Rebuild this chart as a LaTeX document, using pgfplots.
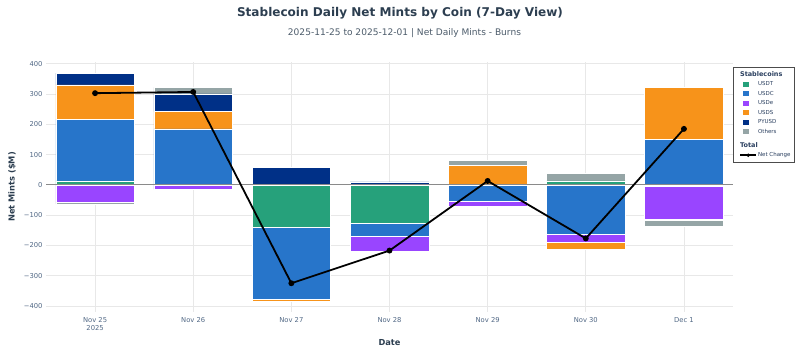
\documentclass[border=0pt]{standalone}
\usepackage{fontspec}
\setmainfont{DejaVu Sans}
\usepackage{pgfplots}
\usepackage{pgfplotstable}
\pgfplotsset{compat=1.18}
\definecolor{cUSDT}{HTML}{26A17B}
\definecolor{cUSDC}{HTML}{2775CA}
\definecolor{cUSDe}{HTML}{9945FF}
\definecolor{cUSDS}{HTML}{F7931A}
\definecolor{cPYUSD}{HTML}{003087}
\definecolor{cOth}{HTML}{95A5A6}
\definecolor{titlec}{HTML}{2C3E50}
\definecolor{tickc}{HTML}{506784}
\definecolor{gridc}{HTML}{E8E8E8}
\definecolor{zeroc}{HTML}{8A8A8A}
\definecolor{legc}{HTML}{2A3F5F}

\pgfplotstableread{
x USDT USDC USDS PYUSD Oth
0 13 204 113 39 0
1 0 185 57 59 21
2 0 0 0 57 0
3 0 0 0 10 0
4 0 0 64 0 16
5 13 0 0 0 24
6 0 151 172 0 0
}\postab
\pgfplotstableread{
x USDT USDC USDe USDS PYUSD Oth
0 0 0 -58 0 0 -6
1 0 0 -15 0 0 0
2 -140 -237 0 -6 0 0
3 -127 -44 -49 0 0 -4
4 0 -55 -14 0 0 0
5 0 -163 -28 -22 0 0
6 -4 0 -109 0 -4 -21
}\negtab
\pgfplotstableread{
x net
0 303
1 307
2 -325
3 -217
4 13
5 -177
6 185
}\nettab

\pgfplotsset{
  base/.style={scale only axis, width=687bp, height=250bp,
    xmin=-0.5, xmax=6.5, ymin=-420, ymax=406},
  barst/.style={draw=white, line width=0.5bp},
}
\newcommand\sqimg[1]{\addlegendimage{legend image code/.code={\path[draw=none,fill=none] (0bp,-1bp) rectangle (0.1bp,1bp); \fill[#1, draw=none] (7bp,-2.6bp) rectangle (12.2bp,2.6bp);}}}
\newcommand\tickfont{\fontsize{6.8}{8.2}\selectfont}
\newcommand\labfont{\bfseries\fontsize{8.3}{10}\selectfont}

\begin{document}
\begin{tikzpicture}
\begin{axis}[base, ybar stacked, bar width=0.8,
  grid=major, major grid style={draw=gridc, line width=0.8bp},
  axis line style={draw=none}, major tick length=0pt,
  xtick={0,...,6},
  xticklabels={{Nov 25\\2025},{Nov 26},{Nov 27},{Nov 28},{Nov 29},{Nov 30},{Dec 1}},
  xticklabel style={font=\tickfont, text=tickc, align=center, yshift=-2bp},
  ytick={-400,-300,...,400},
  yticklabels={−400,−300,−200,−100,0,100,200,300,400},
  yticklabel style={font=\tickfont, text=tickc},
  xlabel={Date}, ylabel={Net Mints (\$M)},
  xlabel style={font=\labfont, text=titlec, at={(axis description cs:0.5,-0.124)}, anchor=center},
  ylabel style={font=\labfont, text=titlec, at={(axis description cs:-0.0495,0.5)}, anchor=center},
]
\addplot[barst, fill=cUSDT] table[x=x,y=USDT]{\postab};
\addplot[barst, fill=cUSDC] table[x=x,y=USDC]{\postab};
\addplot[barst, fill=cUSDS] table[x=x,y=USDS]{\postab};
\addplot[barst, fill=cPYUSD] table[x=x,y=PYUSD]{\postab};
\addplot[barst, fill=cOth] table[x=x,y=Oth]{\postab};
\end{axis}
\begin{axis}[base, ybar stacked, bar width=0.8, hide axis]
\addplot[barst, fill=cUSDT] table[x=x,y=USDT]{\negtab};
\addplot[barst, fill=cUSDC] table[x=x,y=USDC]{\negtab};
\addplot[barst, fill=cUSDe] table[x=x,y=USDe]{\negtab};
\addplot[barst, fill=cUSDS] table[x=x,y=USDS]{\negtab};
\addplot[barst, fill=cPYUSD] table[x=x,y=PYUSD]{\negtab};
\addplot[barst, fill=cOth] table[x=x,y=Oth]{\negtab};
\end{axis}
\begin{axis}[base, hide axis, clip=false,
  legend cell align=left,
  legend style={at={(rel axis cs:1.0,0.98)}, anchor=north west,
    draw=black!70, line width=0.6bp, fill=white,
    inner xsep=3bp, inner ysep=3bp, row sep=1.5bp, column sep=0bp,
    font=\fontsize{5.5}{6.5}\selectfont, text=legc,
    nodes={inner sep=1bp, text depth=1.5bp, execute at begin node={\rule{0pt}{4.5bp}}}},
]
\addlegendimage{empty legend}\addlegendentry{\hspace*{-18bp}\bfseries\fontsize{6.5}{7}\selectfont Stablecoins}
\sqimg{cUSDT}\addlegendentry{USDT}
\sqimg{cUSDC}\addlegendentry{USDC}
\sqimg{cUSDe}\addlegendentry{USDe}
\sqimg{cUSDS}\addlegendentry{USDS}
\sqimg{cPYUSD}\addlegendentry{PYUSD}
\sqimg{cOth}\addlegendentry{Others}
\addlegendimage{empty legend}\addlegendentry{\rule{0pt}{9bp}\hspace*{-18bp}\bfseries\fontsize{6.5}{7}\selectfont Total}
\addlegendimage{legend image code/.code={\path[draw=none,fill=none] (0bp,-1bp) rectangle (0.1bp,1bp); \draw[black, line width=1.6bp] (4bp,0) -- (20bp,0); \fill[black, draw=none] (12bp,0) circle (1.9bp);}}
\addlegendentry{Net Change}
\draw[zeroc, line width=1.1bp] (axis cs:-0.5,0) -- (axis cs:6.5,0);
\addplot[black, line width=1.8bp, mark=*, mark size=2bp, mark options={fill=black}, forget plot] table[x=x,y=net]{\nettab};
\end{axis}
\node[font=\bfseries\fontsize{12.1}{14}\selectfont, text=titlec] at (354bp,299bp) {Stablecoin Daily Net Mints by Coin (7-Day View)};
\node[font=\fontsize{9.1}{11}\selectfont, text=titlec!85!white] at (358.5bp,279bp) {2025-11-25 to 2025-12-01 | Net Daily Mints - Burns};
\pgfresetboundingbox
\path[use as bounding box] (-46bp,-39bp) rectangle (754bp,312bp);
\end{tikzpicture}
\end{document}
